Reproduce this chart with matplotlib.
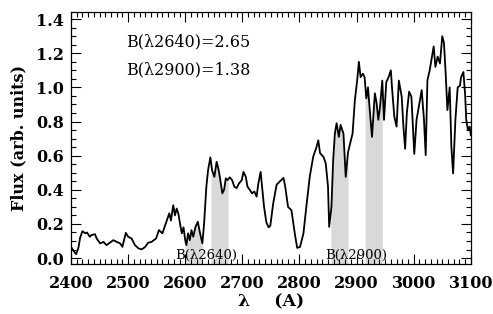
import numpy as np
import matplotlib
matplotlib.use("Agg")
import matplotlib.pyplot as plt
from matplotlib.ticker import MultipleLocator

wave = [2400, 2404, 2409, 2413, 2416, 2420, 2425, 2428, 2433, 2436, 2442, 2445,
        2451, 2457, 2462, 2468, 2474, 2480, 2486, 2490, 2496, 2500, 2506, 2512,
        2518, 2524, 2530, 2535, 2541, 2549, 2554, 2560, 2566, 2572, 2575, 2579,
        2582, 2585, 2588, 2591, 2594, 2597, 2600, 2602, 2605, 2608, 2611, 2614,
        2618, 2622, 2626, 2630, 2633, 2637, 2640, 2644, 2647, 2651, 2655, 2658,
        2661, 2665, 2668, 2671, 2674, 2678, 2682, 2686, 2690, 2694, 2699, 2702,
        2706, 2709, 2713, 2717, 2721, 2725, 2728, 2732, 2735, 2738, 2742, 2746,
        2749, 2754, 2760, 2766, 2772, 2775, 2780, 2786, 2792, 2796, 2801, 2807,
        2812, 2818, 2824, 2830, 2833, 2836, 2842, 2846, 2850, 2852, 2856, 2859,
        2862, 2865, 2869, 2872, 2877, 2881, 2885, 2890, 2893, 2897, 2901, 2904,
        2907, 2911, 2914, 2917, 2920, 2923, 2927, 2932, 2935, 2938, 2941, 2945,
        2948, 2952, 2956, 2960, 2962, 2966, 2970, 2974, 2979, 2982, 2985, 2988,
        2992, 2996, 3001, 3005, 3009, 3014, 3018, 3021, 3024, 3028, 3031, 3035,
        3038, 3042, 3046, 3050, 3053, 3056, 3059, 3063, 3066, 3069, 3073, 3077,
        3081, 3083, 3087, 3090, 3092, 3095, 3098, 3100]
flux = [0.066, 0.045, 0.023, 0.06, 0.12, 0.158, 0.145, 0.15, 0.125, 0.135, 0.14, 0.115,
        0.086, 0.095, 0.076, 0.09, 0.105, 0.095, 0.086, 0.066, 0.148, 0.125, 0.115, 0.076,
        0.057, 0.051, 0.066, 0.09, 0.095, 0.115, 0.164, 0.145, 0.203, 0.262, 0.22, 0.31,
        0.25, 0.29, 0.26, 0.20, 0.145, 0.18, 0.105, 0.076, 0.145, 0.105, 0.164, 0.125,
        0.183, 0.213, 0.145, 0.086, 0.2, 0.418, 0.515, 0.59, 0.515, 0.476, 0.564, 0.525,
        0.467, 0.379, 0.40, 0.467, 0.457, 0.473, 0.457, 0.418, 0.41, 0.437, 0.457, 0.505,
        0.476, 0.418, 0.40, 0.379, 0.39, 0.36, 0.437, 0.505, 0.40, 0.30, 0.21, 0.18,
        0.19, 0.32, 0.43, 0.45, 0.47, 0.42, 0.30, 0.28, 0.14, 0.06, 0.065, 0.145,
        0.30, 0.476, 0.593, 0.652, 0.69, 0.615, 0.593, 0.555, 0.418, 0.183, 0.30, 0.574,
        0.73, 0.79, 0.71, 0.78, 0.73, 0.476, 0.62, 0.69, 0.73, 0.925, 1.04, 1.15,
        1.06, 1.08, 1.06, 0.935, 1.0, 0.87, 0.71, 0.965, 0.91, 0.81, 0.885, 1.04,
        0.81, 1.03, 1.06, 1.10, 1.0, 0.83, 0.77, 1.04, 0.945, 0.77, 0.64, 0.85,
        0.975, 0.945, 0.61, 0.81, 0.886, 0.984, 0.81, 0.603, 1.04, 1.10, 1.16, 1.24,
        1.12, 1.18, 1.14, 1.30, 1.26, 1.08, 0.867, 1.0, 0.65, 0.496, 0.81, 1.0,
        1.01, 1.06, 1.09, 0.96, 0.81, 0.75, 0.77, 0.72]

bands = [(2600, 2630), (2645, 2675), (2855, 2885), (2915, 2945)]
band_labels = ["B(λ2640)", "B(λ2900)"]
band_label_x = [2637.5, 2900]
index_labels = ["B(λ2640)=2.65", "B(λ2900)=1.38"]

wave = np.array(wave, dtype=float)
flux = np.array(flux, dtype=float)

plt.rcParams['font.family'] = ['DejaVu Serif']
fig = plt.figure(figsize=(4.93, 3.14), dpi=100)
ax = fig.add_axes([0.144, 0.159, 0.811, 0.802])

ymin, ymax = -0.035, 1.44
for a, b in bands:
    m = (wave > a) & (wave < b)
    xs = np.concatenate([[a], wave[m], [b]])
    ys = np.interp(xs, wave, flux)
    ax.fill_between(xs, ymin, ys, color='#d9d9d9', lw=0, zorder=1)

ax.plot(wave, flux, color='black', lw=1.3, zorder=3)

ax.set_xlim(2400, 3100)
ax.set_ylim(ymin, ymax)
ax.xaxis.set_major_locator(MultipleLocator(100))
ax.xaxis.set_minor_locator(MultipleLocator(10))
ax.yaxis.set_major_locator(MultipleLocator(0.2))
ax.yaxis.set_minor_locator(MultipleLocator(0.05))
ax.yaxis.set_major_formatter(matplotlib.ticker.FormatStrFormatter('%.1f'))
ax.tick_params(which='both', direction='in', top=True, right=True, width=0.8)
ax.tick_params(which='major', length=7, labelsize=11.5)
ax.tick_params(axis='x', which='major', pad=8)
ax.tick_params(axis='y', which='major', pad=5)
ax.tick_params(which='minor', length=3.5)
for lab in ax.get_xticklabels() + ax.get_yticklabels():
    lab.set_fontweight('bold')
for s in ax.spines.values():
    s.set_linewidth(0.9)

ax.set_xlabel("λ    (A)", fontsize=12.5, fontweight='bold', labelpad=1)
ax.set_ylabel("Flux (arb. units)", fontsize=11.5, fontweight='bold', labelpad=6)

ax.text(2497, 1.265, index_labels[0], fontsize=11.5, ha='left', va='center', zorder=4)
ax.text(2497, 1.105, index_labels[1], fontsize=11.5, ha='left', va='center', zorder=4)
for x, t in zip(band_label_x, band_labels):
    ax.text(x, 0.015, t, fontsize=9.5, ha='center', va='center', zorder=4)

fig.savefig("out.png", dpi=100)
